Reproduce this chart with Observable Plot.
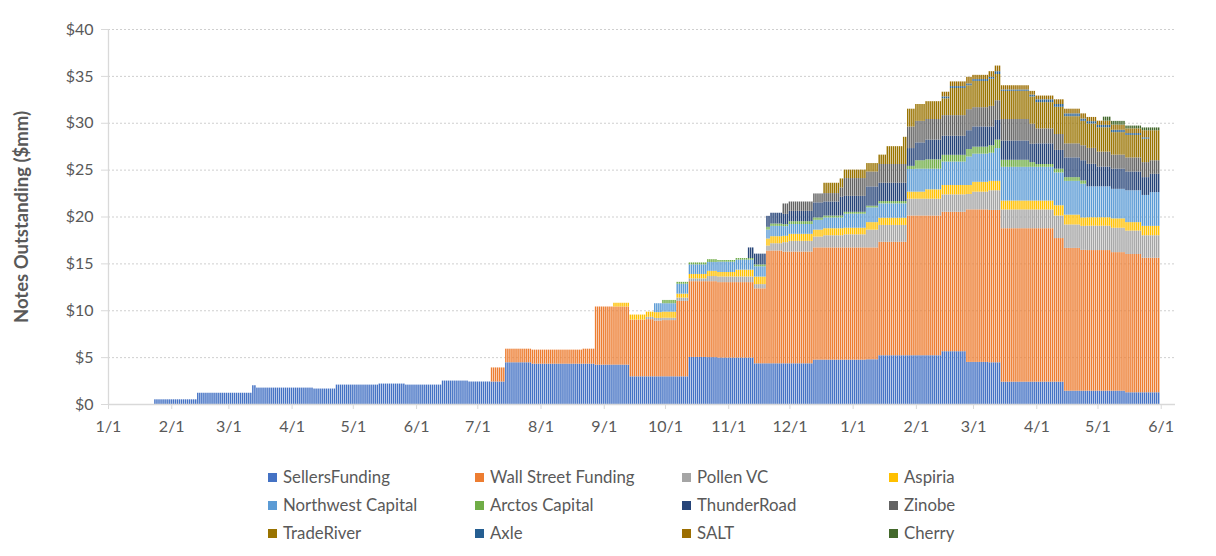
<!DOCTYPE html>
<html><head><meta charset="utf-8">
<script src="https://cdn.jsdelivr.net/npm/d3@7"></script>
<script src="https://cdn.jsdelivr.net/npm/@observablehq/plot@0.6"></script>
<style>
body{margin:0;background:#fff;font-family:Lato,"Open Sans",sans-serif;}
#wrap{position:relative;width:1216px;height:556px;overflow:hidden;}
.lg{position:absolute;font-size:16.8px;color:#595959;line-height:20px;white-space:nowrap;}
.lg span{display:inline-block;width:9px;height:9px;margin-right:6px;vertical-align:1px;}
</style></head>
<body><div id="wrap"></div>
<script>
const seriesNames = ["SellersFunding","Wall Street Funding","Pollen VC","Aspiria","Northwest Capital","Arctos Capital","ThunderRoad","Zinobe","TradeRiver","Axle","SALT","Cherry"];
const seriesColors = ["#4472C4","#ED7D31","#A5A5A5","#FFC000","#5B9BD5","#70AD47","#264478","#636363","#997300","#255E91","#9C6E00","#43682B"];

// start date of each period (values hold until the next start); last day of data
const periodStart = ["2018-01-24","2018-02-14","2018-03-13","2018-03-15","2018-04-12","2018-04-23","2018-05-14","2018-05-27","2018-06-14","2018-06-27",
"2018-07-08","2018-07-15","2018-07-28","2018-08-22","2018-08-28","2018-09-06","2018-09-14","2018-09-22","2018-09-26","2018-09-30",
"2018-10-07","2018-10-13","2018-10-22","2018-10-27","2018-11-05","2018-11-11","2018-11-14","2018-11-20","2018-11-22","2018-11-28",
"2018-12-01","2018-12-13","2018-12-18","2018-12-26","2018-12-28","2019-01-08","2019-01-14","2019-01-18","2019-01-26","2019-01-28",
"2019-02-01","2019-02-06","2019-02-14","2019-02-18","2019-02-26","2019-03-01","2019-03-09","2019-03-12","2019-03-15","2019-03-29",
"2019-04-01","2019-04-10","2019-04-15","2019-04-23","2019-04-26","2019-05-01","2019-05-04","2019-05-08","2019-05-15","2019-05-23",
"2019-05-27"];
const lastDay = "2019-05-31";

const SellersFunding = [0.5,1.2,2.0,1.75,1.65,2.07,2.18,2.07,2.5,2.4, 2.4,4.45,4.3,4.3,4.2,4.2,2.95,2.95,2.95,2.95, 2.95,5.02,5.0,4.95,4.95,4.95,4.34,4.34,4.34,4.34, 4.34,4.73,4.73,4.73,4.73,4.77,5.2,5.2,5.2,5.2, 5.2,5.2,5.63,5.63,4.49,4.49,4.45,4.45,2.38,2.38, 2.38,2.38,1.42,1.42,1.42,1.42,1.42,1.42,1.25,1.25, 1.25];
const WallStreetFunding = [0,0,0,0,0,0,0,0,0,0, 1.5,1.45,1.5,1.6,6.2,6.2,6.05,6.1,5.95,6.0, 8.05,8.08,8.1,8.05,8.05,8.05,8.0,12.03,12.03,11.92, 11.92,11.97,11.97,11.97,11.97,11.93,12.1,12.1,12.1,14.9, 14.9,14.9,14.87,14.87,16.27,16.27,16.25,16.25,16.37,16.37, 16.37,15.32,15.23,15.02,15.0,15.0,15.0,14.78,14.75,14.35, 14.35];
const PollenVC = [0,0,0,0,0,0,0,0,0,0, 0,0,0,0,0,0,0,0.25,0.28,0.25, 0.35,0.3,0.55,0.6,0.6,0.6,0.45,0.53,0.78,1.0, 1.14,1.16,1.3,1.3,1.4,1.9,1.8,1.8,1.8,1.8, 1.8,1.8,1.86,1.86,1.64,1.89,2.1,2.1,2.0,2.0, 2.0,2.4,2.5,2.56,2.6,2.6,2.6,2.6,2.5,2.4, 2.4];
const Aspiria = [0,0,0,0,0,0,0,0,0,0, 0,0,0,0,0,0.4,0.54,0.55,0.62,0.65, 0.42,0.47,0.55,0.48,0.73,0.73,0.8,0.75,0.75,0.68, 0.75,0.74,0.75,0.75,0.7,0.8,0.77,0.77,0.77,0.75, 0.75,1.0,1.0,1.0,0.96,1.05,1.0,1.0,0.95,0.95, 0.95,1.1,1.05,0.9,0.9,0.9,0.9,1.0,0.9,1.0, 1.0];
const NorthwestCapital = [0,0,0,0,0,0,0,0,0,0, 0,0,0,0,0,0,0,0,0.95,0.9, 1.06,1.03,0.95,1.1,1.07,1.07,1.1,0.95,1.1,1.03, 1.05,1.04,1.15,1.15,1.5,1.57,1.53,1.53,1.53,2.42, 2.45,2.2,2.5,2.5,3.04,3.0,3.0,3.5,3.6,3.6, 3.6,3.5,3.6,3.6,3.3,3.3,3.3,3.15,3.4,3.3, 3.6];
const ArctosCapital = [0,0,0,0,0,0,0,0,0,0, 0,0,0,0,0,0,0,0,0,0.35, 0.2,0.2,0.3,0.18,0.17,0.17,0.2,0.3,0.25,0.21, 0.3,0.26,0.2,0.2,0.2,0.18,0.25,0.25,0.25,0.33, 0.9,1.0,0.72,0.72,0.8,0.75,0.8,0.9,0.75,0.5, 0.3,0.4,0.4,0.35,0,0,0,0,0,0, 0];
const ThunderRoad = [0,0,0,0,0,0,0,0,0,0, 0,0,0,0,0,0,0,0,0,0, 0,0,0,0,0,1.13,1.15,1.17,1.15,1.1, 1.1,1.6,1.5,2.0,1.7,2.05,1.95,1.95,1.95,1.9, 1.9,2.1,2.03,2.03,2.0,2.15,2.0,2.1,2.05,1.96, 2.2,2.0,2.1,2.15,2.4,2.1,2.1,2.15,2.0,1.9, 1.95];
const Zinobe = [0,0,0,0,0,0,0,0,0,0, 0,0,0,0,0,0,0,0,0,0, 0,0,0,0,0,0,0,0,0,1.11, 1.0,0.96,0.9,1.0,1.9,1.6,2.0,2.0,2.0,2.3, 2.3,2.2,2.2,2.2,2.25,2.06,2.2,2.1,2.3,2.14, 1.6,1.7,1.5,1.6,1.7,1.6,1.6,1.5,1.5,1.6, 1.45];
const TradeRiver = [0,0,0,0,0,0,0,0,0,0, 0,0,0,0,0,0,0,0,0,0, 0,0,0,0,0,0,0,0,0,0, 0,0,1.1,0.96,0.9,0.9,1.0,1.9,2.9,1.9, 1.8,1.9,1.8,2.9,2.55,2.8,2.9,2.8,3.0,2.9, 2.8,2.9,2.9,2.6,2.6,2.6,2.6,2.4,2.4,2.5, 3.2];
const Axle = [0,0,0,0,0,0,0,0,0,0, 0,0,0,0,0,0,0,0,0,0, 0,0,0,0,0,0,0,0,0,0, 0,0,0,0,0,0,0,0,0,0, 0,0,0.2,0.2,0.2,0.2,0.2,0.3,0.15,0.2, 0.3,0.3,0.3,0.25,0.25,0.25,0.25,0.25,0.2,0.15, 0];
const SALT = [0,0,0,0,0,0,0,0,0,0, 0,0,0,0,0,0,0,0,0,0, 0,0,0,0,0,0,0,0,0,0, 0,0,0,0,0,0,0,0,0,0, 0,0,0.5,0.5,0.7,0.45,0.6,0.6,0.45,0.4, 0.4,0.5,0.5,0.55,0.45,0.45,0.45,0.55,0.5,0.75, 0];
const Cherry = [0,0,0,0,0,0,0,0,0,0, 0,0,0,0,0,0,0,0,0,0, 0,0,0,0,0,0,0,0,0,0, 0,0,0,0,0,0,0,0,0,0, 0,0,0,0,0,0,0,0,0,0, 0,0,0,0,0,0,0.43,0.4,0.3,0.3, 0.3];

const yTicks = [0,5,10,15,20,25,30,35,40];
const xDomain = ["2018-01-01","2019-06-08"];
const xTickRange = ["2018-01-01","2019-06-02"];

const seriesValues = [SellersFunding,WallStreetFunding,PollenVC,Aspiria,NorthwestCapital,ArctosCapital,ThunderRoad,Zinobe,TradeRiver,Axle,SALT,Cherry];
const parse = d3.utcParse("%Y-%m-%d");
const starts = periodStart.map(parse);
const endDate = d3.utcDay.offset(parse(lastDay), 1);
const rows = [];
starts.forEach((s, i) => {
  const e = i + 1 < starts.length ? starts[i + 1] : endDate;
  for (const day of d3.utcDay.range(s, e)) {
    let acc = 0;
    seriesValues.forEach((vals, k) => {
      const v = vals[i];
      if (v > 0) rows.push({x1: d3.utcHour.offset(day, -12), x2: d3.utcHour.offset(day, 12), series: seriesNames[k], y1: acc, y2: acc + v});
      acc += v;
    });
  }
});
const monthTicks = d3.utcMonth.range(parse(xTickRange[0]), parse(xTickRange[1]));

const chart = Plot.plot({
  width: 1216, height: 450,
  marginLeft: 108, marginRight: 41, marginTop: 29, marginBottom: 46,
  style: {fontFamily: "Lato, 'Open Sans', sans-serif", background: "#fff", color: "#595959"},
  x: {type: "utc", domain: xDomain.map(parse)},
  y: {domain: [0, 40]},
  color: {domain: seriesNames, range: seriesColors},
  marks: [
    Plot.gridY(yTicks.slice(1), {stroke: "#cfcfcf", strokeOpacity: 1, strokeWidth: 1, strokeDasharray: "2,2"}),
    Plot.rect(rows, {x1: "x1", x2: "x2", y1: "y1", y2: "y2", fill: "series", insetLeft: 0.3, insetRight: 0.3}),
    Plot.ruleX([parse(xDomain[0])], {stroke: "#d9d9d9", strokeWidth: 1.3}),
    Plot.ruleY([0], {stroke: "#d9d9d9", strokeWidth: 1.5}),
    Plot.axisY(yTicks, {tickSize: 7, tickPadding: 8, tickFormat: d => "$" + d, stroke: "#d9d9d9", color: "#595959", fontSize: 16, label: null}),
    Plot.axisX(monthTicks, {tickSize: 5, tickPadding: 11, tickFormat: d => (d.getUTCMonth() + 1) + "/1", stroke: "#d9d9d9", color: "#595959", fontSize: 16, label: null}),
    Plot.text(["Notes Outstanding ($mm)"], {frameAnchor: "left", rotate: -90, dx: -86, textAnchor: "middle", fontSize: 18.5, fontWeight: "bold", fill: "#595959"})
  ]
});
const wrap = document.getElementById("wrap");
wrap.appendChild(chart);

const colX = [268, 475, 682, 889];
const rowY = [467, 495, 523];
seriesNames.forEach((name, i) => {
  const d = document.createElement("div");
  d.className = "lg";
  d.style.left = colX[i % 4] + "px";
  d.style.top = rowY[Math.floor(i / 4)] + "px";
  d.innerHTML = `<span style="background:${seriesColors[i]}"></span>${name}`;
  wrap.appendChild(d);
});
</script>
</body></html>
